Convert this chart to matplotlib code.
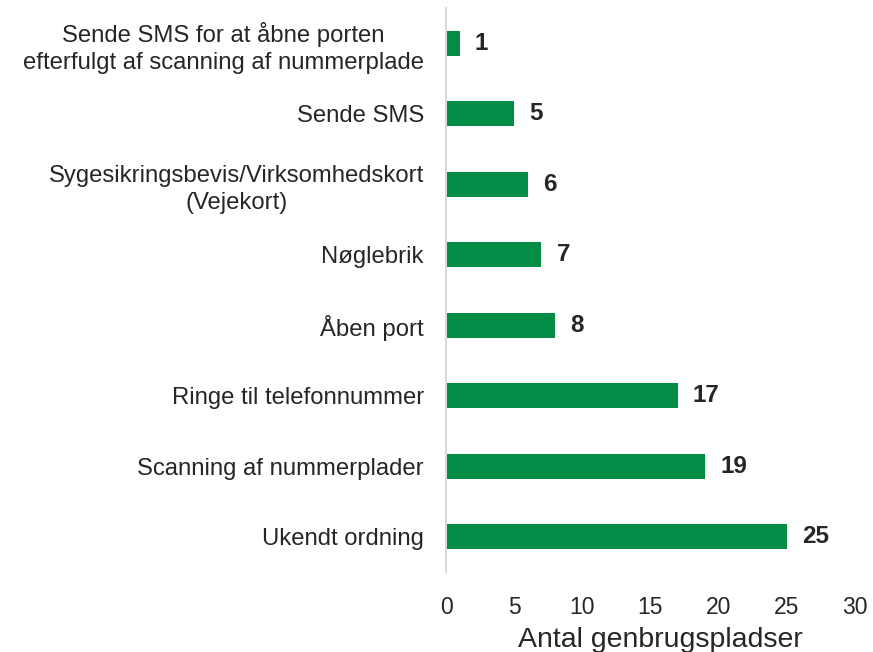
import matplotlib
matplotlib.use("Agg")
import matplotlib.pyplot as plt
from matplotlib import font_manager as fm

categories = [
    "Ukendt ordning",
    "Scanning af nummerplader",
    "Ringe til telefonnummer",
    "Åben port",
    "Nøglebrik",
    "Sygesikringsbevis/Virksomhedskort\n(Vejekort)",
    "Sende SMS",
    "Sende SMS for at åbne porten\nefterfulgt af scanning af nummerplade",
]
values = [25, 19, 17, 8, 7, 6, 5, 1]
xticks = [0, 5, 10, 15, 20, 25, 30]
xlabel = "Antal genbrugspladser"

fm.fontManager.ttflist = [f for f in fm.fontManager.ttflist if "Narrow" not in f.name
                          and "Narrow" not in f.fname]
plt.rcParams['font.family'] = ['Liberation Sans', 'DejaVu Sans']
text_color = "#262626"
bar_color = "#038C45"

fig = plt.figure(figsize=(8.73, 6.52), dpi=100)
ax = fig.add_axes([0.511, 0.1227, 0.468, 0.865])

pos = list(range(len(categories)))
bars = ax.barh(pos, values, height=0.35, color=bar_color)

ax.set_xlim(0, 30)
ax.set_ylim(-0.5, len(categories) - 0.5)
ax.set_yticks(pos)
ax.set_yticklabels(categories, fontsize=17.2, color=text_color, linespacing=1.3,
                   multialignment='center')
ax.set_xticks(xticks)
ax.set_xticklabels([str(t) for t in xticks], fontsize=16.5, color=text_color)
ax.tick_params(axis='y', length=0, pad=16)
ax.tick_params(axis='x', length=0, pad=17)
ax.set_xlabel(xlabel, fontsize=20.5, color=text_color, labelpad=6)
ax.xaxis.label.set_x(0.524)

for s in ['top', 'right', 'bottom']:
    ax.spines[s].set_visible(False)
ax.spines['left'].set_color('#d9d9d9')
ax.spines['left'].set_linewidth(1.5)

for b, v in zip(bars, values):
    ax.annotate(str(v), xy=(b.get_width(), b.get_y() + b.get_height() / 2),
                xytext=(11, 0), textcoords='offset points',
                ha='left', va='center', fontsize=17.5, fontweight='bold',
                color=text_color)

fig.savefig("out.png", dpi=100)
